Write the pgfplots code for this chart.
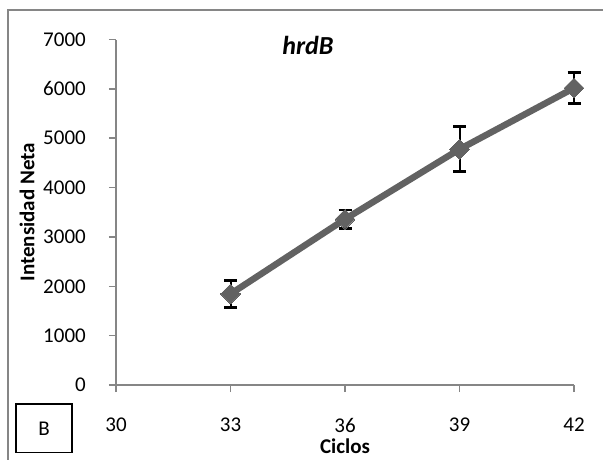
\documentclass[border=0pt]{standalone}
\usepackage{fontspec}
\setmainfont{Carlito}
\usepackage{pgfplots}
\pgfplotsset{compat=1.18}
\definecolor{lg}{RGB}{98,98,98}
\definecolor{ax}{RGB}{134,134,134}
\begin{document}
\fontsize{21}{25}\selectfont
\begin{tikzpicture}[font=\fontsize{21}{25}\selectfont]
\begin{axis}[
  at={(116pt,-385pt)}, anchor=south west,
  scale only axis, width=458pt, height=345.5pt,
  xmin=30, xmax=42, ymin=0, ymax=7000,
  xtick={30,33,36,39,42}, ytick={0,1000,...,7000},
  axis lines*=left,
  axis line style={ax, line width=1.5pt},
  tick style={ax, line width=1.5pt},
  tick align=outside, major tick length=7pt,
  ticklabel style={font=\fontsize{21}{25}\selectfont},
  xticklabel style={yshift=-19pt},
  yticklabel style={xshift=-16pt},
  /pgf/number format/assume math mode=true,
  /pgf/number format/1000 sep={},
  xlabel={\textbf{Ciclos}},
  ylabel={\textbf{Intensidad Neta}},
  xlabel style={at={(axis description cs:0.5,-0.1766)}, anchor=center, font=\fontsize{21}{25}\selectfont},
  ylabel style={at={(axis description cs:-0.1943,0.5)}, anchor=center, font=\fontsize{21}{25}\selectfont},
  clip=false,
]
\addplot[lg, line width=6.5pt, mark=square*, mark size=7pt,
  mark options={rotate=45, fill=lg, draw=lg, line width=0pt},
  error bars/.cd, y dir=both, y explicit,
  error bar style={black, line width=2pt},
  error mark options={black, rotate=90, mark size=6.5pt, line width=2.6pt}]
  coordinates {
  (33,1845) +- (0,270)
  (36,3360) +- (0,185)
  (39,4777) +- (0,456)
  (42,6017) +- (0,310)
  };
\node[anchor=base, font=\bfseries\itshape\fontsize{26}{30}\selectfont] at (rel axis cs:0.419,0.957) {hrdB};
\end{axis}
\draw[ax, line width=2pt] (8pt,-9.5pt) rectangle (640pt,-500pt);
\draw[black, line width=1.2pt] (16pt,-404pt) rectangle (72pt,-452.7pt);
\node[font=\fontsize{21}{25}\selectfont] at (44pt,-428.3pt) {B};
\pgfresetboundingbox
\useasboundingbox (0,0) rectangle (603pt,-459pt);
\end{tikzpicture}
\end{document}
